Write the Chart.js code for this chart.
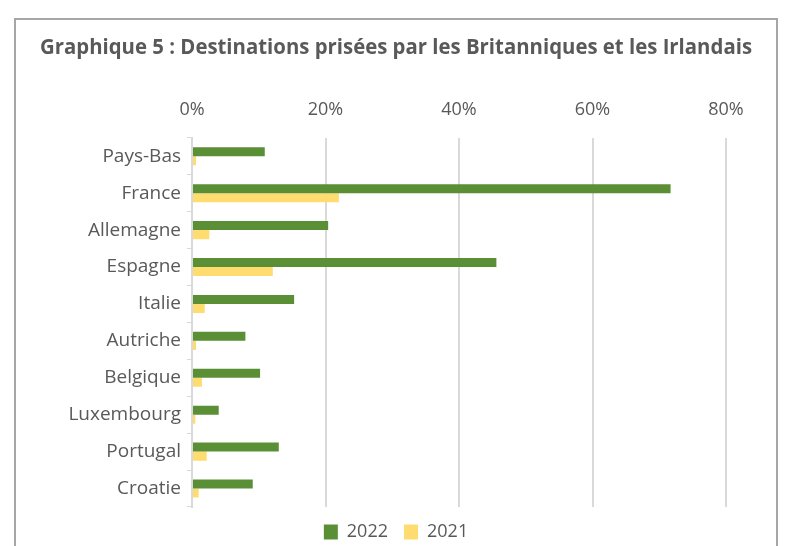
<!DOCTYPE html>
<html lang="fr">
<head>
<meta charset="utf-8">
<script src="https://cdn.jsdelivr.net/npm/chart.js@4/dist/chart.umd.min.js"></script>
<style>
  html, body { margin: 0; padding: 0; background: #fff; overflow: hidden; }
  #cadre { position: absolute; left: 14px; top: 18px; width: 760px; height: 600px; border: 2px solid #a6a6a6; }
  #graph { position: absolute; left: 0; top: 0; }
</style>
</head>
<body>
<div id="cadre"></div>
<canvas id="graph" width="787" height="546"></canvas>
<script>
// Données (en %)
const pays = ['Pays-Bas', 'France', 'Allemagne', 'Espagne', 'Italie', 'Autriche', 'Belgique', 'Luxembourg', 'Portugal', 'Croatie'];
const valeurs2022 = [10.9, 71.7, 20.4, 45.6, 15.3, 8.0, 10.2, 4.0, 13.0, 9.1];
const valeurs2021 = [0.6, 22.0, 2.6, 12.1, 1.9, 0.6, 1.5, 0.5, 2.2, 1.0];
const graduations = [0, 20, 40, 60, 80];

const gris = '#595959';
const police = "'Open Sans', sans-serif";

new Chart(document.getElementById('graph').getContext('2d'), {
  type: 'bar',
  data: {
    labels: pays,
    datasets: [
      { label: '2022', data: valeurs2022, backgroundColor: '#5a8f36', categoryPercentage: 0.49, barPercentage: 1 },
      { label: '2021', data: valeurs2021, backgroundColor: '#fedc6f', categoryPercentage: 0.49, barPercentage: 1 }
    ]
  },
  options: {
    indexAxis: 'y',
    responsive: false,
    animation: false,
    layout: { padding: { left: 40, right: 35, bottom: -5 } },
    plugins: {
      title: {
        display: true,
        text: 'Graphique 5 : Destinations prisées par les Britanniques et les Irlandais',
        color: gris,
        font: { family: police, size: 21, weight: 'bold' },
        padding: { top: 35, bottom: 22 }
      },
      legend: {
        position: 'bottom',
        labels: { color: gris, font: { family: police, size: 18 }, boxWidth: 14, boxHeight: 15, padding: 16 }
      },
      tooltip: { enabled: false }
    },
    scales: {
      x: {
        position: 'top',
        min: 0,
        max: 80,
        afterBuildTicks: s => { s.ticks = graduations.map(v => ({ value: v })); },
        ticks: { color: gris, font: { family: police, size: 18 }, padding: 17, callback: v => v + '%' },
        grid: { color: '#d9d9d9', lineWidth: 2, drawTicks: false },
        border: { display: false }
      },
      y: {
        afterFit: s => { s.width = 152; },
        ticks: { color: gris, font: { family: police, size: 19 }, padding: 6 },
        grid: { drawOnChartArea: false, drawTicks: true, tickLength: 5, color: '#d9d9d9' },
        border: { color: '#d9d9d9', width: 2 }
      },
      // axe vide à droite, pour réserver la marge
      marge: {
        type: 'category',
        axis: 'y',
        position: 'right',
        afterFit: s => { s.width = 26; },
        ticks: { display: false },
        grid: { display: false },
        border: { display: false }
      }
    }
  }
});
</script>
</body>
</html>
